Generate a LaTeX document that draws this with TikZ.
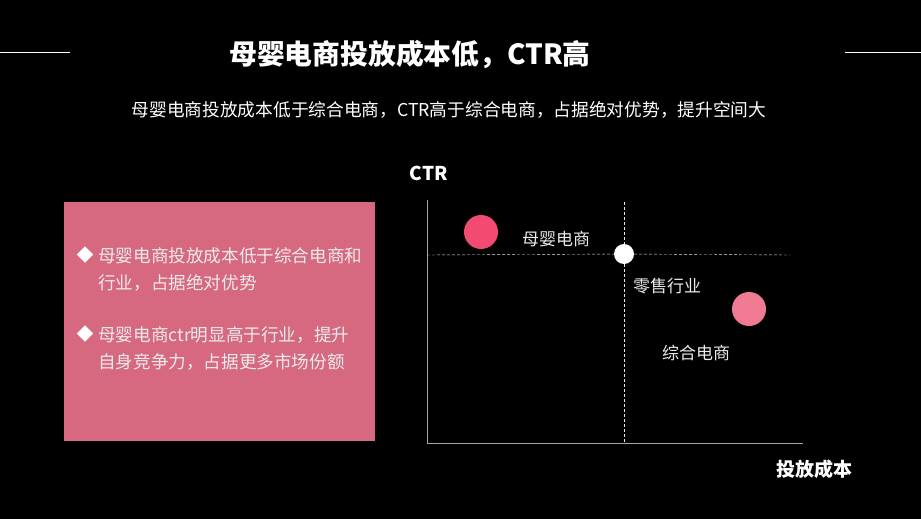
\documentclass[tikz,border=0pt]{standalone}
\usepackage{fontspec}
\setmainfont{Noto Sans CJK SC}
\usetikzlibrary{positioning}
\definecolor{boxpink}{RGB}{214,104,128}
\definecolor{dotred}{RGB}{243,74,114}
\definecolor{dotpink}{RGB}{240,122,146}
\definecolor{axisgray}{RGB}{165,165,165}
\definecolor{softwhite}{RGB}{235,235,235}

\begin{document}
\begin{tikzpicture}[x=1pt, y=-1pt,
    headline/.style={font=\fontsize{27.8}{32}\selectfont\bfseries, text=white, inner sep=0pt},
    subline/.style={font=\fontsize{17.7}{20}\selectfont, text=white, inner sep=0pt},
    bullettext/.style={font=\fontsize{17.6}{27}\selectfont, text=softwhite, align=left, anchor=north west, inner sep=0pt},
    chartlabel/.style={font=\fontsize{17}{20}\selectfont, text=softwhite, inner sep=0pt},
    axislabel/.style={font=\fontsize{19}{22}\selectfont\bfseries, text=white, inner sep=0pt},
    dot/.style={circle, minimum size=#1, inner sep=0pt}]
  \fill[black] (0,0) rectangle (921,519);
  \useasboundingbox (0,0) rectangle (921,519);
  % title
  \node[headline] (title) at (410,55) {母婴电商投放成本低，CTR高};
  \node[subline] (subtitle) at (449,110) {母婴电商投放成本低于综合电商，CTR高于综合电商，占据绝对优势，提升空间大};
  \draw[white] (0,52) -- (70,52);
  \draw[white] (845,52) -- (921,52);
  % left box
  \node[fill=boxpink, minimum width=311, minimum height=239, anchor=north west, inner sep=0pt] (panel) at (64,202) {};
  \node[text=white, font=\fontsize{17}{17}\selectfont, inner sep=0pt] (mark1) at (85,255) {◆};
  \node[text=white, font=\fontsize{17}{17}\selectfont, inner sep=0pt] (mark2) at (85,334) {◆};
  \node[bullettext] (point1) at (98,247) {母婴电商投放成本低于综合电商和\\行业，占据绝对优势};
  \node[bullettext] (point2) at (98,326) {母婴电商ctr明显高于行业，提升\\自身竞争力，占据更多市场份额};
  % chart
  \coordinate (origin) at (427,443);
  \coordinate (ytop) at (427,200);
  \coordinate (xend) at (803,443);
  \draw[axisgray, thick] (ytop) -- (origin) -- (xend);
  \node[dot=20, fill=white] (retail) at (624,254) {};
  \coordinate (hleft) at (427,255);
  \coordinate (hright) at (790,255);
  \coordinate (vtop) at (624,202);
  \coordinate (vbottom) at (624,443);
  \draw[softwhite, dashed, dash pattern=on 3pt off 2pt, thin] (hleft) -- (retail) -- (hright);
  \draw[softwhite, dashed, dash pattern=on 3pt off 2pt, thin] (vtop) -- (retail) -- (vbottom);
  \node[dot=34, fill=dotred] (baby) at (481,232) {};
  \node[dot=34, fill=dotpink] (general) at (749,309) {};
  \node[chartlabel] (babylabel) at (556,239) {母婴电商};
  \node[chartlabel] (retaillabel) at (667,286) {零售行业};
  \node[chartlabel] (generallabel) at (696,353) {综合电商};
  \node[axislabel] (ylabel) at (429,173) {CTR};
  \node[axislabel] (xlabel) at (814,469) {投放成本};
\end{tikzpicture}
\end{document}
